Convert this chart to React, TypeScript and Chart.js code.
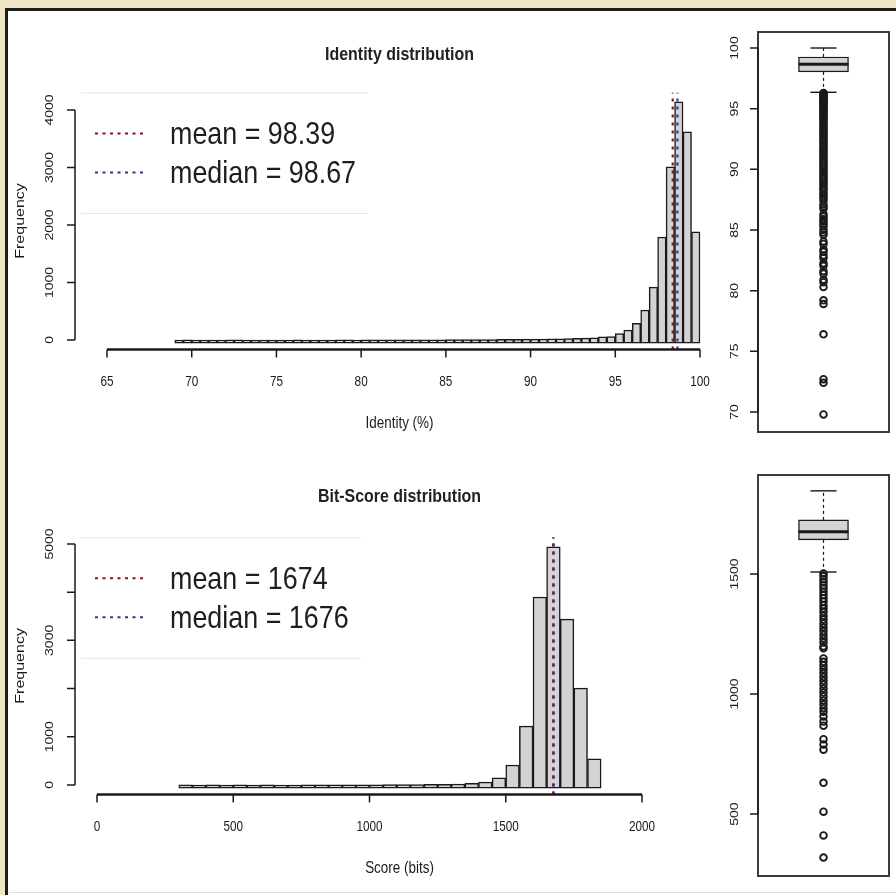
import React, { useEffect, useRef } from "react";
import { Chart, registerables } from "chart.js";

Chart.register(...registerables);

// ---------------- DATA ----------------
const identityTitle = "Identity distribution";
const identityXTitle = "Identity (%)";
const identityBinStart = 69;
const identityBinWidth = 0.5;
const identityCounts = [
  0, 1, 0, 0, 0, 0, 1, 1, 0, 0, 0, 0, 0, 0, 1, 0, 0, 0, 0, 1, 1, 0,
  2, 2, 2, 2, 3, 2, 4, 3, 4, 3, 5, 6, 6, 7, 8, 9, 10, 11, 12, 14,
  15, 17, 19, 21, 24, 27, 31, 36, 55, 60, 110, 170, 290, 520, 920, 1790,
  3010, 4140, 3620, 1880,
];
const identityMean = 98.39;
const identityMedian = 98.67;
const identityXTicks = [65, 70, 75, 80, 85, 90, 95, 100];
const identityYTicks = [0, 1000, 2000, 3000, 4000];
const identityYLabels = ["0", "1000", "2000", "3000", "4000"];
// [lower whisker, Q1, median, Q3, upper whisker]
const identityBoxStats = [96.35, 98.03, 98.67, 99.26, 100];
const identityOutliers = [
  96.3, 96.22, 96.15, 96.05, 95.98, 95.9, 95.8, 95.74, 95.62, 95.55, 95.43,
  95.31, 95.2, 95.12, 94.98, 94.85, 94.77, 94.6, 94.52, 94.38, 94.21, 94.1,
  93.94, 93.8, 93.63, 93.5, 93.33, 93.18, 93.02, 92.86, 92.7, 92.51, 92.37,
  92.2, 92.04, 91.85, 91.7, 91.52, 91.36, 91.18, 91.01, 90.83, 90.66, 90.49,
  90.3, 90.12, 89.95, 89.78, 89.6, 89.41, 89.25, 89.06, 88.88, 88.7, 88.51,
  88.35, 88.16, 87.97, 87.8, 87.62, 87.44, 87.1, 86.92, 86.75, 86.3, 86.1,
  85.88, 85.7, 85.5, 85.3, 85.02, 84.8, 84.6, 84.05, 83.85, 83.4, 83.2, 82.9,
  82.7, 82.25, 82.05, 81.6, 81.4, 80.9, 80.7, 80.3, 79.2, 78.9, 76.4, 72.7,
  72.4, 69.8,
];
const identityBoxTicks = [70, 75, 80, 85, 90, 95, 100];
const identityBoxLabels = ["70", "75", "80", "85", "90", "95", "100"];

const scoreTitle = "Bit-Score distribution";
const scoreXTitle = "Score (bits)";
const scoreBinStart = 300;
const scoreBinWidth = 50;
const scoreCounts = [
  1, 0, 1, 0, 1, 0, 1, 0, 0, 2, 2, 2, 3, 4, 5, 6, 8, 9, 12, 15, 20, 35, 60,
  150, 415, 1220, 3900, 4940, 3440, 2010, 540,
];
const scoreMean = 1674;
const scoreMedian = 1676;
const scoreXTicks = [0, 500, 1000, 1500, 2000];
const scoreYTicks = [0, 1000, 2000, 3000, 4000, 5000];
const scoreYLabels = ["0", "1000", "", "3000", "", "5000"];
const scoreBoxStats = [1508, 1642, 1676, 1725, 1846];
const scoreOutliers = [
  1502, 1490, 1478, 1465, 1452, 1440, 1426, 1412, 1398, 1385, 1370, 1356,
  1341, 1325, 1310, 1294, 1278, 1262, 1246, 1230, 1214, 1198, 1190, 1148,
  1134, 1119, 1103, 1087, 1071, 1055, 1039, 1022, 1006, 990, 973, 957, 941,
  926, 906, 885, 868, 812, 790, 768, 630, 510, 411, 319,
];
const scoreBoxTicks = [500, 1000, 1500];
const scoreBoxLabels = ["500", "1000", "1500"];

// ---------------- STYLE / LAYOUT ----------------
const W = 896;
const H = 895;
const FONT = "'Liberation Sans', Arial, Helvetica, sans-serif";
const INK = "#1a1a1a";
const BAR_FILL = "#d3d3d3";
const FRAME = "#3c3c3c";
const MEAN_COLOR = "#8b1010";
const MEDIAN_COLOR = "#33339a";
const SQUASH = 0.84;
const BOX_PX = 50;
const BOX_HALF = 0.3817;
const CAP_HALF = 0.2;

const rDecor = {
  id: "rDecor",
  afterDraw(chart: any, _args: any, o: any) {
    const { ctx, chartArea: ca } = chart;
    const xs = chart.scales.x;
    const ys = chart.scales.y;
    ctx.save();
    const txt = (s: string, x: number, y: number, font: string, rot = 0, align: CanvasTextAlign = "center", color = "#1a1a1a") => {
      ctx.save();
      ctx.translate(x, y);
      ctx.scale(SQUASH, 1);
      if (rot) ctx.rotate(rot);
      ctx.font = font;
      ctx.fillStyle = color;
      ctx.textAlign = align;
      ctx.textBaseline = "middle";
      ctx.fillText(s, 0, 0);
      ctx.restore();
    };
    ctx.lineCap = "butt";
    if (o.frame) {
      ctx.strokeStyle = FRAME;
      ctx.lineWidth = 2;
      ctx.strokeRect(ca.left, ca.top, ca.right - ca.left, ca.bottom - ca.top);
    }
    // y axis
    ctx.strokeStyle = INK;
    const yPix = o.yTicks.map((v: number) => ys.getPixelForValue(v));
    ctx.lineWidth = 1.5;
    ctx.beginPath();
    ctx.moveTo(ca.left, yPix[0]);
    ctx.lineTo(ca.left, yPix[yPix.length - 1]);
    yPix.forEach((p: number) => {
      ctx.moveTo(ca.left, p);
      ctx.lineTo(ca.left - 8, p);
    });
    ctx.stroke();
    o.yLabels.forEach((s: string, i: number) => {
      if (s) txt(s, ca.left - o.yLabelGap, yPix[i], `${o.tickSize}px ${FONT}`, -Math.PI / 2);
    });
    // x axis
    if (o.xTicks) {
      const xPix = o.xTicks.map((v: number) => xs.getPixelForValue(v));
      ctx.lineWidth = 2.5;
      ctx.beginPath();
      ctx.moveTo(xPix[0], ca.bottom);
      ctx.lineTo(xPix[xPix.length - 1], ca.bottom);
      ctx.stroke();
      ctx.lineWidth = 1.5;
      ctx.beginPath();
      xPix.forEach((p: number) => {
        ctx.moveTo(p, ca.bottom);
        ctx.lineTo(p, ca.bottom + 8);
      });
      ctx.stroke();
      o.xLabels.forEach((s: string, i: number) => {
        txt(s, xPix[i], ca.bottom + 33, `${o.tickSize}px ${FONT}`);
      });
    }
    const cx = (ca.left + ca.right) / 2;
    if (o.title) txt(o.title, cx, o.titleY, `bold 19px ${FONT}`, 0, "center", "#222");
    if (o.xTitle) txt(o.xTitle, cx, ca.bottom + 74, `16px ${FONT}`);
    if (o.yTitle) txt(o.yTitle, 20, (ca.top + ca.bottom) / 2, `16px ${FONT}`, -Math.PI / 2);
    // legend
    if (o.legend) {
      ctx.font = `32px ${FONT}`;
      const maxW = Math.max(...o.legend.map((l: any) => ctx.measureText(l.text).width)) * SQUASH;
      const boxL = ca.left + 6;
      const boxR = ca.left + 95 + maxW + 12;
      ctx.strokeStyle = "#e6e6e6";
      ctx.lineWidth = 1;
      ctx.beginPath();
      ctx.moveTo(boxL, ca.top + 0.5);
      ctx.lineTo(boxR, ca.top + 0.5);
      ctx.moveTo(boxL, ca.top + 121);
      ctx.lineTo(boxR, ca.top + 121);
      ctx.stroke();
      o.legend.forEach((l: any, i: number) => {
        const ly = ca.top + 41 + i * 39;
        ctx.strokeStyle = l.color;
        ctx.lineWidth = 2;
        ctx.setLineDash([3, 4.5]);
        ctx.beginPath();
        ctx.moveTo(ca.left + 20, ly);
        ctx.lineTo(ca.left + 68, ly);
        ctx.stroke();
        ctx.setLineDash([]);
        txt(l.text, ca.left + 95, ly + 1.5, `32px ${FONT}`, 0, "left", "#1e1e1e");
      });
    }
    ctx.restore();
  },
};

type HistArgs = {
  area: number[];
  xMin: number;
  xMax: number;
  step: number;
  binStart: number;
  binWidth: number;
  counts: number[];
  mean: number;
  median: number;
  meanLabel: string;
  medianLabel: string;
  xTicks: number[];
  yTicks: number[];
  yLabels: string[];
  title: string;
  titleY: number;
  xTitle: string;
};

function histConfig(a: HistArgs): any {
  const maxC = Math.max(...a.counts);
  const yMin = -0.04 * maxC;
  const yMax = 1.04 * maxC;
  const bars = a.counts.map((c, i) => ({ x: a.binStart + (i + 0.5) * a.binWidth, y: c }));
  const [l, t, r, b] = a.area;
  return {
    type: "bar",
    data: {
      datasets: [
        {
          type: "line",
          data: [{ x: a.median, y: yMin }, { x: a.median, y: yMax }],
          borderColor: MEDIAN_COLOR,
          borderWidth: 2.2,
          borderDash: [3, 5],
          pointRadius: 0,
          order: 0,
        },
        {
          type: "line",
          data: [{ x: a.mean, y: yMin }, { x: a.mean, y: yMax }],
          borderColor: MEAN_COLOR,
          borderWidth: 2.2,
          borderDash: [3, 5],
          pointRadius: 0,
          order: 1,
        },
        {
          type: "bar",
          data: bars,
          base: -0.013 * maxC,
          backgroundColor: BAR_FILL,
          borderColor: INK,
          borderWidth: 1.5,
          borderSkipped: false,
          barPercentage: 1,
          categoryPercentage: 1,
          order: 2,
        },
      ],
    },
    options: {
      responsive: false,
      animation: false,
      devicePixelRatio: 1,
      events: [],
      layout: { padding: { left: l, top: t, right: W - r, bottom: H - b } },
      scales: {
        x: { type: "linear", display: false, min: a.xMin, max: a.xMax, offset: false, bounds: "data", ticks: { stepSize: a.step } },
        y: { type: "linear", display: false, min: yMin, max: yMax, bounds: "data" },
      },
      plugins: {
        legend: { display: false },
        tooltip: { enabled: false },
        title: { display: false },
        rDecor: {
          xTicks: a.xTicks,
          xLabels: a.xTicks.map(String),
          yTicks: a.yTicks,
          yLabels: a.yLabels,
          yLabelGap: 25,
          tickSize: 14,
          title: a.title,
          titleY: a.titleY,
          xTitle: a.xTitle,
          yTitle: "Frequency",
          legend: [
            { text: a.meanLabel, color: MEAN_COLOR },
            { text: a.medianLabel, color: MEDIAN_COLOR },
          ],
        },
      },
    },
    plugins: [rDecor],
  };
}

type BoxArgs = {
  area: number[];
  yMin: number;
  yMax: number;
  stats: number[];
  outliers: number[];
  ticks: number[];
  labels: string[];
};

function boxConfig(a: BoxArgs): any {
  const [lo, q1, med, q3, hi] = a.stats;
  const [l, t, r, b] = a.area;
  const seg = (pts: { x: number; y: number }[], width: number, dash: number[] = [], order = 2) => ({
    type: "line",
    data: pts,
    borderColor: INK,
    borderWidth: width,
    borderDash: dash,
    pointRadius: 0,
    order,
  });
  return {
    type: "bar",
    data: {
      datasets: [
        seg([{ x: -BOX_HALF, y: med }, { x: BOX_HALF, y: med }], 3, [], 0),
        {
          type: "bar",
          data: [{ x: 0, y: [q1, q3] }],
          backgroundColor: BAR_FILL,
          borderColor: INK,
          borderWidth: 1.4,
          borderSkipped: false,
          barThickness: BOX_PX,
          order: 1,
        },
        seg([{ x: 0, y: q3 }, { x: 0, y: hi }], 1.2, [3, 3]),
        seg([{ x: 0, y: q1 }, { x: 0, y: lo }], 1.2, [3, 3]),
        seg([{ x: -CAP_HALF, y: hi }, { x: CAP_HALF, y: hi }], 1.4),
        seg([{ x: -CAP_HALF, y: lo }, { x: CAP_HALF, y: lo }], 1.4),
        {
          type: "scatter",
          data: a.outliers.map((v) => ({ x: 0, y: v })),
          pointRadius: 3.3,
          pointBorderWidth: 1.9,
          pointBorderColor: INK,
          pointBackgroundColor: "rgba(0,0,0,0)",
          pointStyle: "circle",
          order: 3,
        },
      ],
    },
    options: {
      responsive: false,
      animation: false,
      devicePixelRatio: 1,
      events: [],
      layout: { padding: { left: l, top: t, right: W - r, bottom: H - b } },
      scales: {
        x: { type: "linear", display: false, min: -1, max: 1, offset: false, bounds: "data", ticks: { stepSize: 1 } },
        y: { type: "linear", display: false, min: a.yMin, max: a.yMax, bounds: "data" },
      },
      plugins: {
        legend: { display: false },
        tooltip: { enabled: false },
        title: { display: false },
        rDecor: {
          frame: true,
          yTicks: a.ticks,
          yLabels: a.labels,
          yLabelGap: 23,
          tickSize: 14,
        },
      },
    },
    plugins: [rDecor],
  };
}

function Layer({ make }: { make: () => any }) {
  const ref = useRef<HTMLCanvasElement>(null);
  useEffect(() => {
    const chart = new Chart(ref.current as HTMLCanvasElement, make());
    return () => chart.destroy();
  }, []);
  return (
    <canvas
      ref={ref}
      width={W}
      height={H}
      style={{ position: "absolute", left: 0, top: 0, width: W, height: H }}
    />
  );
}

export default function App() {
  return (
    <div style={{ position: "absolute", left: 0, top: 0, width: W, height: H, background: "#f0e6c6", overflow: "hidden" }}>
      <div
        style={{
          position: "absolute",
          left: 5,
          top: 8,
          right: 0,
          bottom: 0,
          background: "#ffffff",
          borderTop: "3px solid #1c1c1c",
          borderLeft: "3px solid #1c1c1c",
        }}
      />
      <div style={{ position: "absolute", left: 9, right: 0, top: 892, height: 1, background: "#dedede" }} />
      <Layer
        make={() =>
          histConfig({
            area: [75, 92.4, 724, 349.5],
            xMin: 63.111,
            xMax: 101.417,
            step: 5,
            binStart: identityBinStart,
            binWidth: identityBinWidth,
            counts: identityCounts,
            mean: identityMean,
            median: identityMedian,
            meanLabel: `mean = ${identityMean}`,
            medianLabel: `median = ${identityMedian}`,
            xTicks: identityXTicks,
            yTicks: identityYTicks,
            yLabels: identityYLabels,
            title: identityTitle,
            titleY: 55,
            xTitle: identityXTitle,
          })
        }
      />
      <Layer
        make={() =>
          histConfig({
            area: [75, 537.3, 724, 794.5],
            xMin: -80.73,
            xMax: 2300.9,
            step: 500,
            binStart: scoreBinStart,
            binWidth: scoreBinWidth,
            counts: scoreCounts,
            mean: scoreMean,
            median: scoreMedian,
            meanLabel: `mean = ${scoreMean}`,
            medianLabel: `median = ${scoreMedian}`,
            xTicks: scoreXTicks,
            yTicks: scoreYTicks,
            yLabels: scoreYLabels,
            title: scoreTitle,
            titleY: 497,
            xTitle: scoreXTitle,
          })
        }
      />
      <Layer
        make={() =>
          boxConfig({
            area: [758, 32, 889, 432],
            yMin: 68.35,
            yMax: 101.32,
            stats: identityBoxStats,
            outliers: identityOutliers,
            ticks: identityBoxTicks,
            labels: identityBoxLabels,
          })
        }
      />
      <Layer
        make={() =>
          boxConfig({
            area: [758, 475, 889, 876],
            yMin: 242,
            yMax: 1912,
            stats: scoreBoxStats,
            outliers: scoreOutliers,
            ticks: scoreBoxTicks,
            labels: scoreBoxLabels,
          })
        }
      />
    </div>
  );
}
